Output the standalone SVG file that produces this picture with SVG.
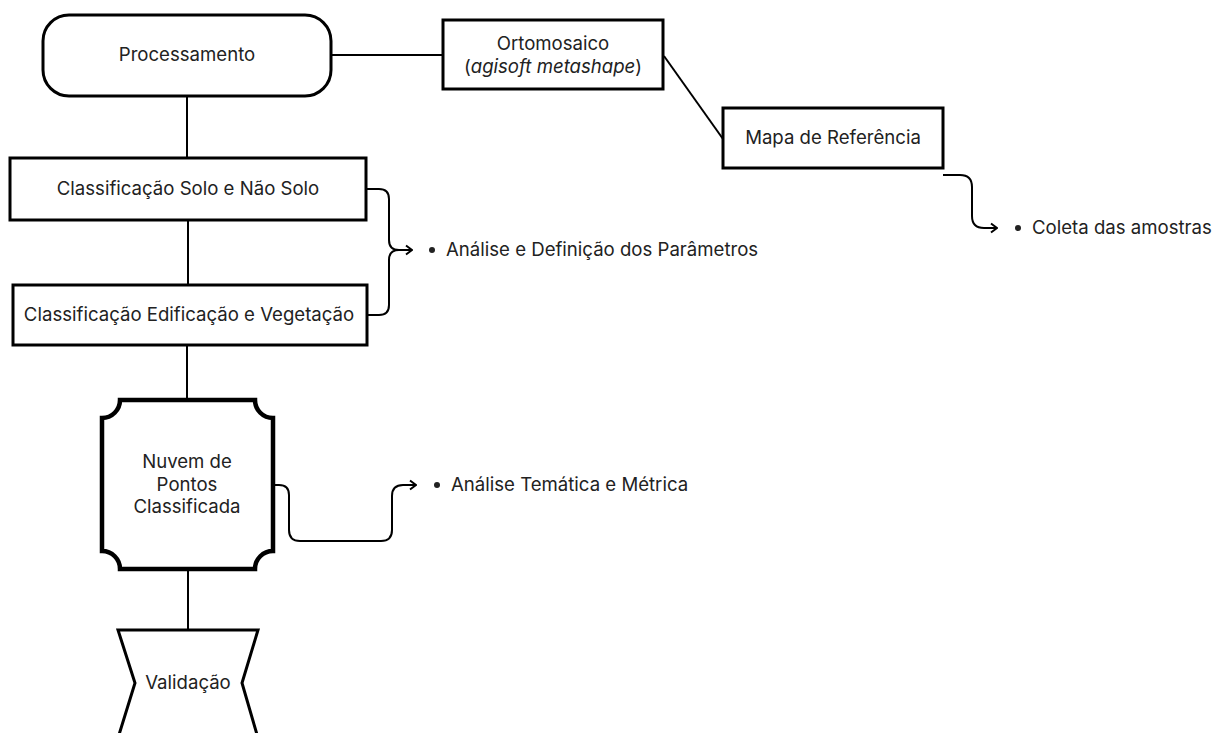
<svg xmlns="http://www.w3.org/2000/svg" width="1216" height="733" viewBox="0 0 1216 733">
<defs>
<style>
.box{fill:#fff;stroke:#000;stroke-width:3}
.thick{fill:#fff;stroke:#000;stroke-width:4.5}
.con{fill:none;stroke:#000;stroke-width:2}
.dot{fill:#222}
text{font-family:Inter,"Liberation Sans",sans-serif;font-size:18.6px;fill:#222;text-anchor:middle}
.lbl{text-anchor:start}
</style>
<marker id="arr" markerWidth="10" markerHeight="12" refX="9" refY="6" orient="auto" markerUnits="userSpaceOnUse">
<polyline points="3,1.5 9,6 3,10.5" fill="none" stroke="#000" stroke-width="2"/>
</marker>
</defs>
<rect width="1216" height="733" fill="#fff"/>
<g id="connectors">
<line class="con" x1="331" y1="55" x2="443" y2="55"/>
<line class="con" x1="664" y1="56" x2="723" y2="139"/>
<line class="con" x1="187" y1="96" x2="187" y2="158"/>
<line class="con" x1="188" y1="220" x2="188" y2="285"/>
<line class="con" x1="187" y1="345" x2="187" y2="400"/>
<line class="con" x1="188" y1="569" x2="188" y2="630"/>
<path class="con" d="M366,189 H379 Q389,189 389,199 V240 Q389,250 399,250 H412" marker-end="url(#arr)"/>
<path class="con" d="M367,315 H379 Q389,315 389,305 V260 Q389,250 399,250"/>
<path class="con" d="M943,175 H960 Q972,175 972,187 V216 Q972,228 984,228 H997" marker-end="url(#arr)"/>
<path class="con" d="M275,485 H279 Q289,485 289,495 V530 Q289,541 300,541 H381 Q392,541 392,530 V496 Q392,485 403,485 H416" marker-end="url(#arr)"/>
</g>
<g id="processamento">
<rect class="box" x="43" y="15" width="288" height="81" rx="26"/>
<text x="187" y="61">Processamento</text>
</g>
<g id="ortomosaico">
<rect class="box" x="443" y="20" width="220" height="69"/>
<text x="553" y="50">Ortomosaico</text>
<text x="553" y="73">(<tspan font-style="italic">agisoft metashape</tspan>)</text>
</g>
<g id="mapa">
<rect class="box" x="723" y="108" width="220" height="60"/>
<text x="833" y="144">Mapa de Referência</text>
</g>
<g id="coleta">
<circle class="dot" cx="1018" cy="228" r="3"/>
<text class="lbl" x="1032" y="234">Coleta das amostras</text>
</g>
<g id="solo">
<rect class="box" x="10" y="158" width="356" height="62"/>
<text x="188" y="195">Classificação Solo e Não Solo</text>
</g>
<g id="edificacao">
<rect class="box" x="13" y="285" width="354" height="60"/>
<text x="189" y="321">Classificação Edificação e Vegetação</text>
</g>
<g id="parametros">
<circle class="dot" cx="432" cy="250" r="3"/>
<text class="lbl" x="446" y="256">Análise e Definição dos Parâmetros</text>
</g>
<g id="nuvem">
<path class="thick" d="M120,400 H255 A18 18 0 0 0 273,418 V551 A18 18 0 0 0 255,569 H120 A18 18 0 0 0 102,551 V418 A18 18 0 0 0 120,400 Z"/>
<text x="187" y="468">Nuvem de</text>
<text x="187" y="491">Pontos</text>
<text x="187" y="513">Classificada</text>
</g>
<g id="tematica">
<circle class="dot" cx="437" cy="485" r="3"/>
<text class="lbl" x="451" y="491">Análise Temática e Métrica</text>
</g>
<g id="validacao">
<polygon class="box" points="118,630 258,630 242,683 258,738 118,738 135,683"/>
<text x="188" y="689">Validação</text>
</g>
</svg>
